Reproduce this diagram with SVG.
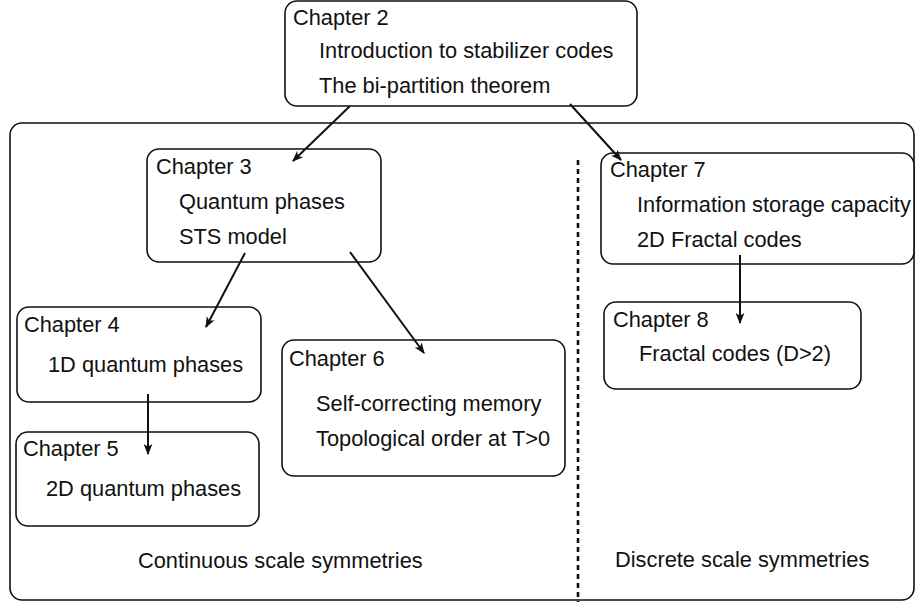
<svg xmlns="http://www.w3.org/2000/svg" width="915" height="602" viewBox="0 0 915 602">
<defs>
<style>
.box{fill:#fff;stroke:#111;stroke-width:1.6}
.frame{fill:#fff;stroke:#111;stroke-width:1.6}
text{font-family:"Liberation Sans",Arial,Helvetica,sans-serif;font-size:21.8px;fill:#111}
.edge{stroke:#111;stroke-width:2;fill:none;marker-end:url(#ah)}
.div{stroke:#111;stroke-width:2.6;stroke-dasharray:5 4;fill:none}
</style>
<marker id="ah" viewBox="0 0 10 8" refX="9" refY="4" markerWidth="11" markerHeight="9" orient="auto" markerUnits="userSpaceOnUse">
<path d="M0,0 L10,4 L0,8 L2.5,4 z" fill="#111"/>
</marker>
</defs>
<rect width="915" height="602" fill="#fff"/>
<g id="frame">
<rect class="frame" x="10" y="123" width="904" height="477" rx="12"/>
<line class="div" x1="578" y1="160" x2="578" y2="602"/>
<text x="138" y="568">Continuous scale symmetries</text>
<text x="615" y="567">Discrete scale symmetries</text>
</g>
<g id="ch2">
<rect class="box" x="285" y="1" width="352" height="105" rx="12"/>
<text x="293" y="25">Chapter 2</text>
<text x="319" y="58">Introduction to stabilizer codes</text>
<text x="319" y="93">The bi-partition theorem</text>
</g>
<g id="ch3">
<rect class="box" x="147" y="149" width="234" height="113" rx="12"/>
<text x="156" y="174">Chapter 3</text>
<text x="179" y="209">Quantum phases</text>
<text x="179" y="244">STS model</text>
</g>
<g id="ch4">
<rect class="box" x="17" y="307" width="244" height="95" rx="12"/>
<text x="24" y="332">Chapter 4</text>
<text x="48" y="372">1D quantum phases</text>
</g>
<g id="ch5">
<rect class="box" x="16" y="432" width="243" height="94" rx="12"/>
<text x="23" y="456">Chapter 5</text>
<text x="46" y="496">2D quantum phases</text>
</g>
<g id="ch6">
<rect class="box" x="282" y="340" width="283" height="136" rx="12"/>
<text x="289" y="366">Chapter 6</text>
<text x="316" y="411">Self-correcting memory</text>
<text x="316" y="446">Topological order at T&gt;0</text>
</g>
<g id="ch7">
<rect class="box" x="601" y="153" width="313" height="111" rx="12"/>
<text x="610" y="177">Chapter 7</text>
<text x="637" y="212">Information storage capacity</text>
<text x="637" y="247">2D Fractal codes</text>
</g>
<g id="ch8">
<rect class="box" x="604" y="302" width="257" height="87" rx="12"/>
<text x="613" y="327">Chapter 8</text>
<text x="639" y="361">Fractal codes (D&gt;2)</text>
</g>
<g id="connectors">
<line class="edge" x1="350" y1="106" x2="293" y2="161"/>
<line class="edge" x1="570" y1="104" x2="621" y2="160"/>
<line class="edge" x1="245" y1="253" x2="206" y2="327"/>
<line class="edge" x1="350" y1="252" x2="424" y2="353"/>
<line class="edge" x1="148" y1="394" x2="148" y2="454"/>
<line class="edge" x1="740" y1="255" x2="740" y2="323"/>
</g>
</svg>
